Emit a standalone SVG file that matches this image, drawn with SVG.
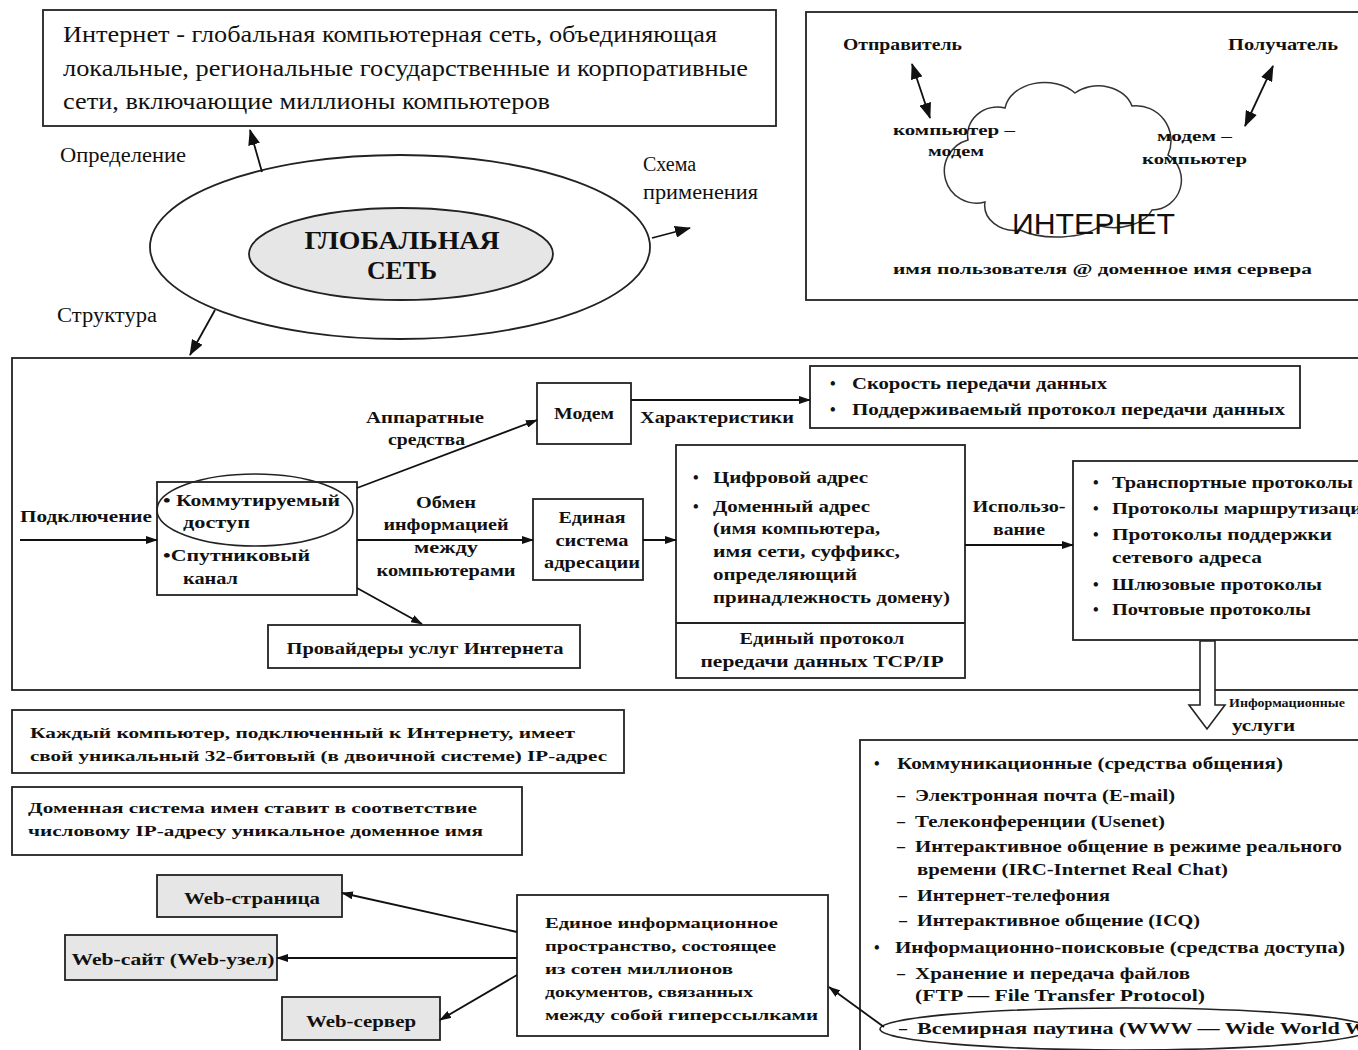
<svg xmlns="http://www.w3.org/2000/svg" width="1358" height="1050" viewBox="0 0 1358 1050">
<style>
.bx{fill:#fff;stroke:#222;stroke-width:1.8}
.gb{fill:#e6e6e6;stroke:#222;stroke-width:1.8}
.ln{fill:none;stroke:#111;stroke-width:1.8}
.t{font-family:"Liberation Serif","DejaVu Serif",serif;fill:#111;font-size:16px;font-weight:bold}
.s{font-size:15px}
.r{font-family:"Liberation Serif","DejaVu Serif",serif;fill:#111;font-size:20px}
.m{text-anchor:middle}
</style>
<defs>
<marker id="a" viewBox="0 0 12 8" refX="11" refY="4" markerWidth="12" markerHeight="8" markerUnits="userSpaceOnUse" orient="auto-start-reverse"><path d="M0,0 L12,4 L0,8 z" fill="#111"/></marker>
<marker id="A" viewBox="0 0 16 12" refX="15" refY="6" markerWidth="16" markerHeight="12" markerUnits="userSpaceOnUse" orient="auto-start-reverse"><path d="M0,0 L16,6 L0,12 z" fill="#111"/></marker>
</defs>
<rect width="1358" height="1050" fill="#fff"/>

<g id="definition">
<rect class="bx" x="43" y="10" width="733" height="116"/>
<text class="r" x="63" y="42" style="font-size:23px" textLength="654" lengthAdjust="spacingAndGlyphs">Интернет - глобальная компьютерная сеть, объединяющая</text>
<text class="r" x="63" y="76" style="font-size:23px" textLength="685" lengthAdjust="spacingAndGlyphs">локальные, региональные государственные и корпоративные</text>
<text class="r" x="63" y="109" style="font-size:23px" textLength="487" lengthAdjust="spacingAndGlyphs">сети, включающие миллионы компьютеров</text>
</g>

<g id="global-net">
<ellipse cx="400" cy="247" rx="250" ry="92" fill="#fff" stroke="#222" stroke-width="1.8"/>
<ellipse cx="401" cy="254" rx="152" ry="46" class="gb"/>
<text class="t m" x="402" y="249" style="font-size:25px" textLength="195" lengthAdjust="spacingAndGlyphs">ГЛОБАЛЬНАЯ</text>
<text class="t m" x="402" y="279" style="font-size:25px" textLength="70" lengthAdjust="spacingAndGlyphs">СЕТЬ</text>
<text class="r" x="60" y="162" textLength="126" lengthAdjust="spacingAndGlyphs">Определение</text>
<text class="r" x="643" y="171">Схема</text>
<text class="r" x="643" y="199" textLength="115" lengthAdjust="spacingAndGlyphs">применения</text>
<text class="r" x="57" y="322" textLength="100" lengthAdjust="spacingAndGlyphs">Структура</text>
</g>

<g id="scheme">
<rect class="bx" x="806" y="12" width="560" height="288"/>
<text class="t" x="843" y="50" textLength="119" lengthAdjust="spacingAndGlyphs">Отправитель</text>
<text class="t" x="1228" y="50" textLength="110" lengthAdjust="spacingAndGlyphs">Получатель</text>
<path d="M968,140 A30,28 0 0 1 1005,108 A40,30 0 0 1 1075,93 A35,28 0 0 1 1132,106 A35,35 0 0 1 1168,155 A30,30 0 0 1 1152,210 A40,25 0 0 1 1100,226 A50,22 0 0 1 1020,230 A30,25 0 0 1 985,202 A28,28 0 0 1 968,140 Z" fill="#fff" stroke="#333" stroke-width="1.5"/>
<text class="t s" x="893" y="135" textLength="122" lengthAdjust="spacingAndGlyphs">компьютер –</text>
<text class="t s" x="928" y="156" textLength="56" lengthAdjust="spacingAndGlyphs">модем</text>
<text class="t s" x="1157" y="141" textLength="75" lengthAdjust="spacingAndGlyphs">модем –</text>
<text class="t s" x="1142" y="164" textLength="105" lengthAdjust="spacingAndGlyphs">компьютер</text>
<text x="1012" y="234" font-family="'Liberation Sans','DejaVu Sans',sans-serif" font-size="30" fill="#111" textLength="163" lengthAdjust="spacingAndGlyphs">ИНТЕРНЕТ</text>
<text class="t s" x="893" y="274" textLength="419" lengthAdjust="spacingAndGlyphs">имя пользователя @ доменное имя сервера</text>
</g>

<g id="structure">
<rect class="bx" x="12" y="358" width="1360" height="332"/>
</g>

<g id="access">
<rect class="bx" x="157" y="482" width="200" height="113"/>
<text class="t" x="20" y="522" textLength="132" lengthAdjust="spacingAndGlyphs">Подключение</text>
<text class="t" x="163" y="506" textLength="177" lengthAdjust="spacingAndGlyphs">• Коммутируемый</text>
<text class="t" x="183" y="528" textLength="67" lengthAdjust="spacingAndGlyphs">доступ</text>
<text class="t" x="163" y="561" textLength="147" lengthAdjust="spacingAndGlyphs">•Спутниковый</text>
<text class="t" x="183" y="584" textLength="55" lengthAdjust="spacingAndGlyphs">канал</text>
<ellipse cx="255" cy="510" rx="98" ry="36" fill="none" stroke="#222" stroke-width="1.6"/>
</g>

<g id="modem">
<rect class="bx" x="537" y="383" width="94" height="61"/>
<text class="t m" x="584" y="419" textLength="60" lengthAdjust="spacingAndGlyphs">Модем</text>
<text class="t" x="366" y="423" textLength="118" lengthAdjust="spacingAndGlyphs">Аппаратные</text>
<text class="t" x="388" y="445" textLength="77" lengthAdjust="spacingAndGlyphs">средства</text>
<text class="t" x="640" y="423" textLength="154" lengthAdjust="spacingAndGlyphs">Характеристики</text>
</g>

<g id="characteristics">
<rect class="bx" x="810" y="366" width="490" height="62"/>
<text class="t" x="830" y="389">•</text>
<text class="t" x="852" y="389" textLength="255" lengthAdjust="spacingAndGlyphs">Скорость передачи данных</text>
<text class="t" x="830" y="415">•</text>
<text class="t" x="852" y="415" textLength="433" lengthAdjust="spacingAndGlyphs">Поддерживаемый протокол передачи данных</text>
</g>

<g id="exchange">
<text class="t m" x="446" y="508" textLength="60" lengthAdjust="spacingAndGlyphs">Обмен</text>
<text class="t m" x="446" y="530" textLength="125" lengthAdjust="spacingAndGlyphs">информацией</text>
<text class="t m" x="446" y="553" textLength="64" lengthAdjust="spacingAndGlyphs">между</text>
<text class="t m" x="446" y="576" textLength="139" lengthAdjust="spacingAndGlyphs">компьютерами</text>
</g>

<g id="addressing">
<rect class="bx" x="533" y="499" width="110" height="81"/>
<text class="t m" x="592" y="523" textLength="67" lengthAdjust="spacingAndGlyphs">Единая</text>
<text class="t m" x="592" y="546" textLength="73" lengthAdjust="spacingAndGlyphs">система</text>
<text class="t m" x="592" y="568" textLength="96" lengthAdjust="spacingAndGlyphs">адресации</text>
</g>

<g id="addresses">
<rect class="bx" x="676" y="445" width="289" height="233"/>
<line x1="676" y1="623" x2="965" y2="623" stroke="#222" stroke-width="1.8"/>
<text class="t" x="693" y="483">•</text>
<text class="t" x="713" y="483" textLength="155" lengthAdjust="spacingAndGlyphs">Цифровой адрес</text>
<text class="t" x="693" y="512">•</text>
<text class="t" x="713" y="512" textLength="157" lengthAdjust="spacingAndGlyphs">Доменный адрес</text>
<text class="t" x="713" y="534" textLength="167" lengthAdjust="spacingAndGlyphs">(имя компьютера,</text>
<text class="t" x="713" y="557" textLength="187" lengthAdjust="spacingAndGlyphs">имя сети, суффикс,</text>
<text class="t" x="713" y="580" textLength="144" lengthAdjust="spacingAndGlyphs">определяющий</text>
<text class="t" x="713" y="603" textLength="237" lengthAdjust="spacingAndGlyphs">принадлежность домену)</text>
<text class="t m" x="822" y="644" textLength="165" lengthAdjust="spacingAndGlyphs">Единый протокол</text>
<text class="t m" x="822" y="667" textLength="243" lengthAdjust="spacingAndGlyphs">передачи данных TCP/IP</text>
<text class="t m" x="1019" y="512" textLength="93" lengthAdjust="spacingAndGlyphs">Использо-</text>
<text class="t m" x="1019" y="535" textLength="52" lengthAdjust="spacingAndGlyphs">вание</text>
</g>

<g id="protocols">
<rect class="bx" x="1073" y="461" width="300" height="179"/>
<text class="t" x="1093" y="488">•</text>
<text class="t" x="1112" y="488" textLength="241" lengthAdjust="spacingAndGlyphs">Транспортные протоколы</text>
<text class="t" x="1093" y="514">•</text>
<text class="t" x="1112" y="514" textLength="262" lengthAdjust="spacingAndGlyphs">Протоколы маршрутизации</text>
<text class="t" x="1093" y="540">•</text>
<text class="t" x="1112" y="540" textLength="220" lengthAdjust="spacingAndGlyphs">Протоколы поддержки</text>
<text class="t" x="1112" y="563" textLength="150" lengthAdjust="spacingAndGlyphs">сетевого адреса</text>
<text class="t" x="1093" y="590">•</text>
<text class="t" x="1112" y="590" textLength="210" lengthAdjust="spacingAndGlyphs">Шлюзовые протоколы</text>
<text class="t" x="1093" y="615">•</text>
<text class="t" x="1112" y="615" textLength="199" lengthAdjust="spacingAndGlyphs">Почтовые протоколы</text>
</g>

<g id="providers">
<rect class="bx" x="268" y="625" width="312" height="43"/>
<text class="t m" x="425" y="654" textLength="277" lengthAdjust="spacingAndGlyphs">Провайдеры услуг Интернета</text>
</g>

<g id="ip">
<rect class="bx" x="12" y="710" width="612" height="63"/>
<text class="t s" x="30" y="738" textLength="545" lengthAdjust="spacingAndGlyphs">Каждый компьютер, подключенный к Интернету, имеет</text>
<text class="t s" x="30" y="761" textLength="577" lengthAdjust="spacingAndGlyphs">свой уникальный 32-битовый (в двоичной системе) IP-адрес</text>
</g>

<g id="dns">
<rect class="bx" x="12" y="787" width="510" height="68"/>
<text class="t s" x="28" y="813" textLength="449" lengthAdjust="spacingAndGlyphs">Доменная система имен ставит в соответствие</text>
<text class="t s" x="28" y="836" textLength="455" lengthAdjust="spacingAndGlyphs">числовому IP-адресу уникальное доменное имя</text>
</g>

<g id="web-page">
<rect class="gb" x="157" y="875" width="185" height="42"/>
<text class="t m" x="252" y="904" textLength="136" lengthAdjust="spacingAndGlyphs">Web-страница</text>
</g>
<g id="web-site">
<rect class="gb" x="65" y="935" width="212" height="45"/>
<text class="t m" x="173" y="965" textLength="203" lengthAdjust="spacingAndGlyphs">Web-сайт (Web-узел)</text>
</g>
<g id="web-server">
<rect class="gb" x="282" y="997" width="158" height="43"/>
<text class="t m" x="361" y="1027" textLength="110" lengthAdjust="spacingAndGlyphs">Web-сервер</text>
</g>

<g id="www">
<rect class="bx" x="517" y="895" width="311" height="141"/>
<text class="t s" x="545" y="928" textLength="233" lengthAdjust="spacingAndGlyphs">Единое информационное</text>
<text class="t s" x="545" y="951" textLength="231" lengthAdjust="spacingAndGlyphs">пространство, состоящее</text>
<text class="t s" x="545" y="974" textLength="188" lengthAdjust="spacingAndGlyphs">из сотен миллионов</text>
<text class="t s" x="545" y="997" textLength="208" lengthAdjust="spacingAndGlyphs">документов, связанных</text>
<text class="t s" x="545" y="1020" textLength="273" lengthAdjust="spacingAndGlyphs">между собой гиперссылками</text>
</g>

<g id="services">
<rect class="bx" x="860" y="740" width="510" height="320"/>
<text class="t" x="1229" y="707" style="font-size:13.5px" textLength="116" lengthAdjust="spacingAndGlyphs">Информационные</text>
<text class="t" x="1232" y="731" textLength="63" lengthAdjust="spacingAndGlyphs">услуги</text>
<text class="t" x="874" y="769">•</text>
<text class="t" x="897" y="769" textLength="386" lengthAdjust="spacingAndGlyphs">Коммуникационные (средства общения)</text>
<text class="t" x="897" y="801">–</text>
<text class="t" x="915" y="801" textLength="260" lengthAdjust="spacingAndGlyphs">Электронная почта (E-mail)</text>
<text class="t" x="897" y="827">–</text>
<text class="t" x="915" y="827" textLength="250" lengthAdjust="spacingAndGlyphs">Телеконференции (Usenet)</text>
<text class="t" x="897" y="852">–</text>
<text class="t" x="915" y="852" textLength="427" lengthAdjust="spacingAndGlyphs">Интерактивное общение в режиме реального</text>
<text class="t" x="917" y="875" textLength="311" lengthAdjust="spacingAndGlyphs">времени (IRC-Internet Real Chat)</text>
<text class="t" x="899" y="901">–</text>
<text class="t" x="917" y="901" textLength="193" lengthAdjust="spacingAndGlyphs">Интернет-телефония</text>
<text class="t" x="899" y="926">–</text>
<text class="t" x="917" y="926" textLength="283" lengthAdjust="spacingAndGlyphs">Интерактивное общение (ICQ)</text>
<text class="t" x="874" y="953">•</text>
<text class="t" x="895" y="953" textLength="450" lengthAdjust="spacingAndGlyphs">Информационно-поисковые (средства доступа)</text>
<text class="t" x="897" y="979">–</text>
<text class="t" x="915" y="979" textLength="275" lengthAdjust="spacingAndGlyphs">Хранение и передача файлов</text>
<text class="t" x="915" y="1001" textLength="290" lengthAdjust="spacingAndGlyphs">(FTP — File Transfer Protocol)</text>
<text class="t" x="899" y="1034">–</text>
<text class="t" x="917" y="1034" textLength="478" lengthAdjust="spacingAndGlyphs">Всемирная паутина (WWW — Wide World Web)</text>
<ellipse cx="1125" cy="1029" rx="245" ry="21" fill="none" stroke="#222" stroke-width="1.6"/>
</g>

<g id="connectors">
<line class="ln" x1="262" y1="172" x2="250" y2="130" marker-end="url(#A)"/>
<line class="ln" x1="652" y1="238" x2="690" y2="228" marker-end="url(#A)"/>
<line class="ln" x1="215" y1="310" x2="190" y2="355" marker-end="url(#A)"/>
<line class="ln" x1="912" y1="64" x2="930" y2="118" marker-start="url(#A)" marker-end="url(#A)"/>
<line class="ln" x1="1273" y1="66" x2="1245" y2="126" marker-start="url(#A)" marker-end="url(#A)"/>
<line class="ln" x1="20" y1="540" x2="157" y2="540" marker-end="url(#a)"/>
<line class="ln" x1="357" y1="488" x2="537" y2="420" marker-end="url(#a)"/>
<line class="ln" x1="631" y1="400" x2="810" y2="400" marker-end="url(#a)"/>
<line class="ln" x1="357" y1="540" x2="533" y2="540" marker-end="url(#a)"/>
<line class="ln" x1="643" y1="540" x2="676" y2="540" marker-end="url(#a)"/>
<line class="ln" x1="965" y1="545" x2="1073" y2="545" marker-end="url(#a)"/>
<line class="ln" x1="357" y1="588" x2="422" y2="624" marker-end="url(#a)"/>
<path d="M1200,641 L1215,641 L1215,705 L1225,705 L1207,729 L1189,705 L1200,705 Z" fill="#fff" stroke="#222" stroke-width="1.6"/>
<line class="ln" x1="517" y1="932" x2="342" y2="893" marker-end="url(#a)"/>
<line class="ln" x1="517" y1="958" x2="277" y2="958" marker-end="url(#a)"/>
<line class="ln" x1="517" y1="975" x2="440" y2="1020" marker-end="url(#a)"/>
<line class="ln" x1="884" y1="1027" x2="829" y2="987" marker-end="url(#a)"/>
</g>
</svg>
